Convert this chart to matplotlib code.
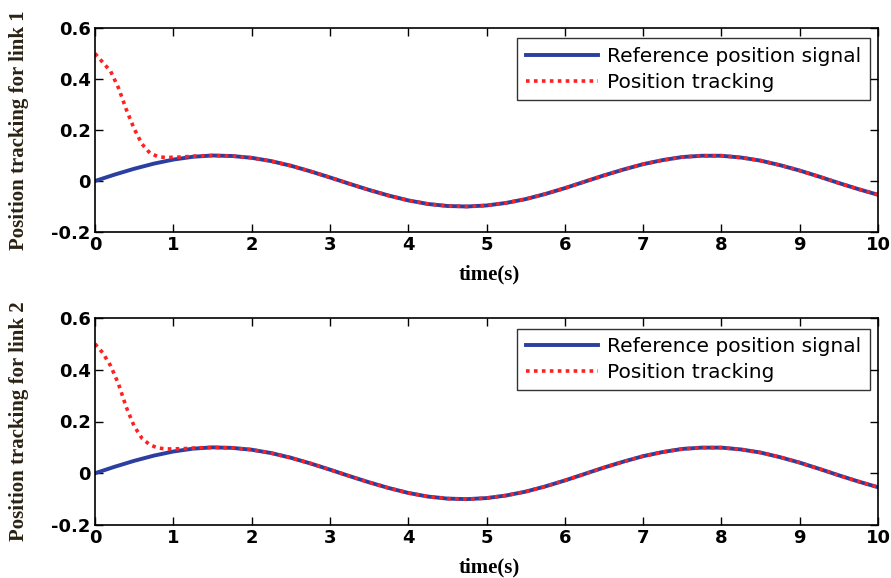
import numpy as np
import matplotlib
matplotlib.use("Agg")
import matplotlib.pyplot as plt

# Time grid of the reference signal (s)
t_ref = np.arange(0, 10.001, 0.25)
# Reference position signal (rad)
ref_pos = [0.000, 0.025, 0.048, 0.068, 0.084, 0.095, 0.100, 0.098, 0.091,
           0.078, 0.060, 0.038, 0.014, -0.011, -0.035, -0.057, -0.076,
           -0.090, -0.098, -0.100, -0.096, -0.086, -0.071, -0.051, -0.028,
           -0.003, 0.022, 0.045, 0.066, 0.082, 0.094, 0.099, 0.099, 0.092,
           0.080, 0.062, 0.041, 0.017, -0.008, -0.032, -0.054]

# Transient of the tracked position, before it joins the reference
t_transient = np.arange(0, 1.41, 0.1)
track_link1 = [0.500, 0.465, 0.430, 0.365, 0.280, 0.205, 0.145, 0.110,
               0.096, 0.092, 0.093, 0.094, 0.096, 0.098, 0.099]
track_link2 = [0.500, 0.465, 0.415, 0.345, 0.255, 0.182, 0.135, 0.110,
               0.098, 0.094, 0.094, 0.095, 0.096, 0.098, 0.099]

y_ticks = [-0.2, 0, 0.2, 0.4, 0.6]
y_ticklabels = ["-0.2", "0", "0.2", "0.4", "0.6"]
x_ticks = list(range(0, 11))

W, H = 891, 578
fig = plt.figure(figsize=(W / 100, H / 100), dpi=100)


def px_axes(left, top, right, bottom):
    return fig.add_axes([left / W, 1 - bottom / H, (right - left) / W,
                         (bottom - top) / H])


ax1 = px_axes(95, 28, 878, 232)
ax2 = px_axes(95, 318, 878, 525)

serif = "Liberation Serif"
sans = "DejaVu Sans"

for ax, track, link in [(ax1, track_link1, 1), (ax2, track_link2, 2)]:
    # tracked trajectory: transient first, then it coincides with the reference
    keep = t_ref > t_transient[-1] + 1e-9
    t_track = np.concatenate([t_transient, t_ref[keep]])
    y_track = np.concatenate([track, np.asarray(ref_pos)[keep]])

    ax.plot(t_ref, ref_pos, color="#2a3fa0", lw=2.8, label="Reference position signal")
    ax.plot(t_track, y_track, color="#ff2020", lw=2.6, ls=(0, (1, 1.2)),
            label="Position tracking")

    ax.set_xlim(0, 10)
    ax.set_ylim(-0.2, 0.6)
    ax.set_xticks(x_ticks)
    ax.set_yticks(y_ticks)
    ax.set_yticklabels(y_ticklabels)
    ax.tick_params(direction="in", top=True, right=True, length=6, width=1,
                   labelsize=13, pad=3)
    for lab in ax.get_xticklabels() + ax.get_yticklabels():
        lab.set_fontfamily(sans)
        lab.set_fontweight("bold")
    for s in ax.spines.values():
        s.set_linewidth(1.2)

    h_px = ax.get_position().height * H
    ax.set_xlabel("time(s)", fontfamily=serif, fontweight="bold", fontsize=15)
    ax.xaxis.set_label_coords(0.503, -32 / h_px)
    ax.xaxis.label.set_va("top")
    ax.set_ylabel(f"Position tracking for link {link}", fontfamily=serif,
                  fontweight="bold", fontsize=15, color="#2a2212")
    ax.yaxis.set_label_coords(-66 / 783, 0.5)

    leg = ax.legend(loc="upper right", bbox_to_anchor=(775 / 783, 1 - 10.5 / h_px),
                    prop={"family": sans, "size": 14.5}, handlelength=3.6,
                    handletextpad=0.45, frameon=True, fancybox=False,
                    borderaxespad=0, labelspacing=0.35, borderpad=0.42)
    leg.get_frame().set_edgecolor("black")
    leg.get_frame().set_linewidth(1.0)

fig.savefig("out.png", dpi=100)
